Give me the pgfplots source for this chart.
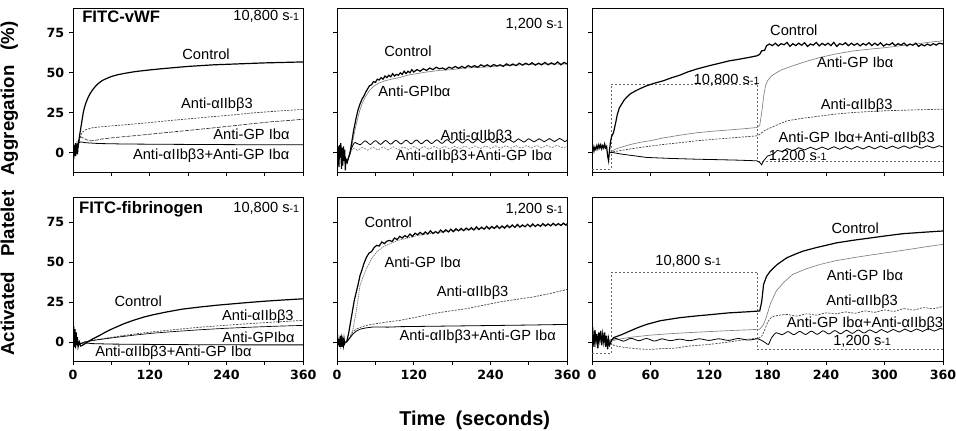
\documentclass[border=0pt]{standalone}
\usepackage{fontspec}
\setmainfont{Liberation Sans}
\newfontfamily\tickf{DejaVu Sans}
\usepackage{pgfplots}
\pgfplotsset{compat=1.18}
\newcommand\annf{\fontsize{11}{12}\selectfont}
\newcommand\sone{s{\fontsize{8}{8}\selectfont -1}}
\tikzset{ann/.style={font=\annf, inner sep=1pt}}
\pgfplotsset{
 panel/.style={scale only axis, height=123pt, xmin=0, xmax=360, ymin=-12, ymax=90.5,
   ytick={0,25,50,75}, tick align=outside, tick pos=left,
   axis line style={line width=0.6pt}, tick style={line width=0.6pt, black},
   major tick length=3pt, minor tick length=3pt,
   ticklabel style={font=\tickf\bfseries\fontsize{9.5}{11}\selectfont},
   /pgf/number format/assume math mode=true, anchor=south west},
 narrow/.style={width=172.7pt, xtick={0,120,240,360}, minor xtick={60,180,300}},
 wide/.style={width=263.25pt, xtick={0,60,120,180,240,300,360}},
 ctrl/.style={black, line width=0.9pt},
 gpib/.style={black!50, line width=0.5pt},
 aiib/.style={black!75, line width=0.5pt, dash pattern=on 1.6pt off 0.9pt},
 combo/.style={black, line width=0.6pt},
 shear/.style={black!60, line width=0.4pt, dash pattern=on 1.5pt off 1.5pt},
}
\begin{document}
\begin{tikzpicture}
\useasboundingbox (0,0) rectangle (717pt,322.5pt);
% ---------------- Top left
\begin{axis}[panel, narrow, at={(54.75pt,193.5pt)}, xticklabel=\empty]
\addplot[aiib] coordinates {(8,3)(10,8)(12,11)(15,13)(20,14.5)(30,15.6)(42,16.2)(60,16.8)(90,17.8)(120,18.9)(147,20)(180,21.2)(210,22.3)(251,23.7)(280,24.9)(310,25.8)(340,26.6)(360,27.2)};
\addplot[black!80, line width=0.5pt, dash pattern=on 3pt off 1pt] coordinates {(8,3)(10,8)(12,10)(16,9.2)(22,8)(28,7.5)(35,7.8)(45,8.6)(60,9.3)(80,10.1)(94,10.6)(120,11.6)(147,12.7)(180,14)(210,15.2)(251,16.9)(280,18.2)(310,19.4)(340,20.3)(360,21)};
\addplot[combo] coordinates {(5,2)(8,6)(12,6.8)(20,6.3)(40,5.8)(80,5.5)(150,5.3)(250,5.1)(360,5)};
\addplot[ctrl] coordinates {(0,2)(1,-4)(2,5)(3,-2)(4,6)(5,1)(6,4)(7,-1)(8,5)(10,10)(12,15)(14,20)(16,25)(18,28.5)(20,31)(23,34)(26,36.5)(30,39)(35,41.5)(40,43.5)(45,45)(50,46)(60,47.7)(70,48.8)(80,49.6)(90,50.3)(100,50.9)(120,51.8)(140,52.6)(160,53.3)(180,54)(200,54.5)(220,55)(240,55.3)(260,55.6)(280,55.9)(300,56.2)(320,56.4)(340,56.6)(360,56.8)};
\node[ann, font=\bfseries\fontsize{12.5}{13}\selectfont, anchor=west] at (axis cs:12,85.3) {FITC-vWF};
\node[ann, anchor=east] at (axis cs:356,85.5) {10,800 \sone};
\node[ann] at (axis cs:208,61.4) {Control};
\node[ann] at (axis cs:225,30) {Anti-αIIbβ3};
\node[ann] at (axis cs:279,11.7) {Anti-GP Ibα};
\node[ann] at (axis cs:216,-1.9) {Anti-αIIbβ3+Anti-GP Ibα};
\end{axis}
% ---------------- Top middle
\begin{axis}[panel, narrow, at={(252.75pt,193.5pt)}, xticklabel=\empty, yticklabel=\empty]
\addplot[gpib] coordinates {(12,-3)(15,-6)(18,-3)(20,-1)(24,6)(28,14)(32,21)(36,27)(40,31.5)(45,35.5)(51,39)(57,41.5)(65,43.5)(75,45)(85,46)(98,47)(110,48.5)(125,49.5)(140,50.5)(160,51.5)(180,52)(200,53)(230,53.5)(260,54.5)(290,55)(320,55.5)(360,55.5)};
\addplot[black, line width=0.6pt, smooth] coordinates {(12,-2)(16,-5)(20,0)(24,4)(28,6.5)(36,5)(44,7.5)(52,5.2)(60,7.6)(68,5.3)(76,7.7)(84,5.4)(92,7.8)(100,5.5)(108,7.9)(116,5.6)(124,8)(132,5.7)(140,8)(148,5.8)(156,8.1)(164,5.9)(172,8.2)(180,6)(188,8.3)(196,6.1)(204,8.4)(212,6.2)(220,8.4)(228,6.3)(236,8.5)(244,6.4)(252,8.6)(260,6.5)(268,8.6)(276,6.6)(284,8.7)(292,6.7)(300,8.8)(308,6.8)(316,8.8)(324,6.9)(332,8.9)(340,7)(348,9)(356,7)(360,8)};
\addplot[black!50, line width=0.5pt, dash pattern=on 1.6pt off 0.9pt, smooth] coordinates {(20,-1)(24,2)(28,3)(32,1.5)(40,3.5)(48,1.6)(56,3.6)(64,1.7)(72,3.7)(80,1.8)(88,3.8)(96,1.9)(104,3.8)(112,2)(120,3.9)(128,2.1)(136,4)(144,2.2)(152,4)(160,2.3)(168,4.1)(176,2.4)(184,4.1)(192,2.5)(200,4.2)(208,2.6)(216,4.3)(224,2.6)(232,4.3)(240,2.7)(248,4.4)(256,2.8)(264,4.4)(272,2.9)(280,4.5)(288,2.9)(296,4.5)(304,3)(312,4.6)(320,3.1)(328,4.6)(336,3.2)(344,4.7)(352,3.2)(360,4)};
\addplot[ctrl] coordinates {(0,2)(1,-6)(2,4)(3,-9)(4,5)(5,-3)(6,6)(7,-10)(8,3)(9,-8)(10,4)(11,-5)(12,2)(13,-11)(14,-4)(16,-6)(18,-3)(20,-1)(22,4)(24,9)(26,14)(28,18)(30,22)(33,27)(36,30.5)(39,33.5)(42,35.5)(45,38)(48,40)(51,42)(54,42.5)(57,44.5)(60,44)(63,46)(66,45.5)(69,47)(72,46)(75,48)(78,47)(81,48.5)(84,47.5)(87,49.5)(90,48)(93,49)(96,48.5)(99,50)(102,49)(105,51)(108,49.5)(111,51)(114,50)(117,52)(120,50.5)(125,52)(130,51)(135,52.5)(140,51.5)(145,53)(150,52)(155,53.5)(160,52.5)(165,53)(170,52)(175,53.5)(180,52.8)(185,54)(190,52.8)(195,54)(200,53)(205,54.5)(210,53.5)(215,54.5)(220,53.5)(225,55)(230,54)(235,55)(240,53.8)(245,55.2)(250,54.2)(255,55)(260,54)(265,55.6)(270,54.5)(275,55.5)(280,54.5)(285,56)(290,54.8)(295,56)(300,55)(305,56.3)(310,54.8)(315,56)(320,55)(325,56.5)(330,55)(335,56.2)(340,55.2)(345,56.8)(350,55)(355,56.5)(360,55.5)};
\node[ann, anchor=east] at (axis cs:356,80) {1,200 \sone};
\node[ann] at (axis cs:111,63.3) {Control};
\node[ann] at (axis cs:121,38.3) {Anti-GPIbα};
\node[ann] at (axis cs:218,10.1) {Anti-αIIbβ3};
\node[ann] at (axis cs:214,-2.4) {Anti-αIIbβ3+Anti-GP Ibα};
\end{axis}
% ---------------- Top right
\begin{axis}[panel, wide, at={(444pt,193.5pt)}, xticklabel=\empty, yticklabel=\empty]
\addplot[shear] coordinates {(0,-10)(20,-10)(20,43)(170,43)(170,-5)(360,-5)};
\addplot[gpib] coordinates {(18,0)(20,1)(25,2.5)(30,3.5)(40,5.3)(50,6.6)(60,7.6)(73,9.3)(90,11)(107,12.5)(124,13.5)(141,14.3)(155,15)(169,15.8)(172,17)(174,25)(176,35)(178,42)(180,45)(184,48)(189,50)(195,52)(206,54.4)(220,57.2)(234,59.6)(250,61.8)(268,63.7)(285,64.8)(302,65.8)(320,67.2)(336,68.3)(350,69.4)(360,70)};
\addplot[aiib] coordinates {(18,0)(20,0.5)(30,1.5)(40,2.5)(55,3.8)(73,5.2)(90,6.3)(107,7.5)(124,8.4)(141,9.2)(155,9.9)(169,10.6)(172,11.5)(176,13.5)(180,14.8)(190,17.5)(200,20)(215,21.5)(234,23)(250,24.2)(268,25.2)(285,25.8)(302,26.3)(330,26.8)(360,27.3)};
\addplot[combo] coordinates {(18,0)(20,0.3)(30,-0.8)(40,-1.6)(56,-2.9)(80,-3.5)(107,-4)(130,-4.3)(150,-4.6)(169,-5)(172,-6)(174,-7.5)(176,-5)(180,-2)(186,-0.8)(190,1.5)(195,0.8)(200,2.6)(206,1.3)(212,3.2)(218,1.8)(224,3.5)(230,2)(236,3.6)(242,2.1)(248,3.8)(254,2.2)(260,3.9)(266,2.3)(272,4)(278,2.4)(284,4.1)(290,2.5)(296,4.2)(302,2.6)(308,4.2)(314,2.7)(320,4.3)(326,2.8)(332,4.3)(338,2.9)(344,4.4)(350,3)(356,4.4)(360,3.6)};
\addplot[ctrl] coordinates {(0,2)(1,4)(2,1)(3,3.5)(4,2)(5,4.5)(6,2.5)(7,5)(8,3)(9,5)(10,2.5)(11,4.5)(12,3)(13,5.5)(14,3)(15,4)(16,-2)(17,-5)(18,2)(19,7)(20,10)(22,12.5)(24,18)(26,24)(28,28)(30.4,30.4)(33,33)(36,35)(39,36.7)(44,38.5)(50,40.3)(56,41.9)(64,43.5)(73,45)(82,47)(90,48.5)(98,50.5)(107,52.3)(115,53.6)(124,55)(133,56.3)(141,57.5)(150,58.4)(160,59.5)(169,60.6)(172,61.5)(174,63.75)(177,64)(179,66.9)(182,68)(185,67)(188,68.5)(191,66.8)(194,68.2)(197,67.5)(200,69)(203,66.5)(206,68.2)(209,67)(212,68.5)(215,67.2)(218,68.8)(221,66.5)(224,68)(227,67.3)(230,69)(233,66.8)(236,68.4)(239,67.2)(242,68.5)(245,67)(248,69)(251,66.5)(254,68.2)(257,67.5)(260,68.8)(263,67)(266,68.5)(269,67.2)(272,68.4)(275,66.8)(278,68.3)(281,67.3)(284,68.8)(287,67)(290,68.5)(293,67.2)(296,68.8)(299,66.7)(302,68)(305,67.4)(308,68.7)(311,67)(314,68.2)(317,67.3)(320,68.6)(323,66.8)(326,68)(329,67.2)(332,68.5)(335,66.5)(338,67.8)(341,66.8)(344,68)(347,67)(350,68.2)(353,67.3)(356,68.5)(360,68)};
\node[ann] at (axis cs:207,76.9) {Control};
\node[ann] at (axis cs:270,56.4) {Anti-GP Ibα};
\node[ann] at (axis cs:138,45.6) {10,800 \sone};
\node[ann] at (axis cs:271.5,29.4) {Anti-αIIbβ3};
\node[ann] at (axis cs:271.5,9) {Anti-GP Ibα+Anti-αIIbβ3};
\node[ann] at (axis cs:211,-1.9) {1,200 \sone};
\end{axis}
% ---------------- Bottom left
\begin{axis}[panel, narrow, at={(54.75pt,51.6pt)}]
\addplot[aiib] coordinates {(8,0)(12,-1)(18,0)(30,1)(50,2.3)(75,3.8)(100,5.2)(130,6.6)(160,7.8)(200,9.3)(240,10.5)(280,11.6)(320,12.6)(360,13.5)};
\addplot[combo, line width=0.5pt] coordinates {(8,0)(12,-1)(18,0)(30,0.9)(50,2)(75,3.3)(100,4.5)(130,5.7)(160,6.6)(200,7.7)(240,8.6)(280,9.3)(320,9.9)(360,10.4)};
\addplot[combo] coordinates {(8,0)(12,-1)(18,-0.5)(30,-1)(60,-1.3)(120,-1.5)(200,-1.7)(280,-1.8)(360,-1.8)};
\addplot[ctrl] coordinates {(0,3)(1,10)(2,-3)(3,8)(4,-4)(5,6)(6,-2)(7,3)(8,-3)(10,0)(12,-2.5)(15,-2)(19,-1)(25,0.5)(30,1.8)(36,3)(42,4.2)(50,6)(60,8)(68,9.4)(80,11.5)(94,13.5)(110,15.5)(125,17)(146,18.75)(170,20.5)(199,21.9)(225,23)(251,23.9)(277,24.8)(303,25.6)(330,26.3)(360,27)};
\node[ann, font=\bfseries\fontsize{12.5}{13}\selectfont, anchor=west] at (axis cs:7,83.1) {FITC-fibrinogen};
\node[ann, anchor=east] at (axis cs:356,83.3) {10,800 \sone};
\node[ann] at (axis cs:102,25.5) {Control};
\node[ann] at (axis cs:289,15.6) {Anti-αIIbβ3};
\node[ann] at (axis cs:290,2.7) {Anti-GPIbα};
\node[ann] at (axis cs:157,-6.7) {Anti-αIIbβ3+Anti-GP Ibα};
\end{axis}
% ---------------- Bottom middle
\begin{axis}[panel, narrow, at={(252.75pt,51.6pt)}, yticklabel=\empty]
\addplot[black!50, line width=0.6pt, dash pattern=on 1pt off 0.6pt] coordinates {(15,0)(20,2)(25,8)(30,19)(36,35.4)(41,41)(46,45.8)(54,52)(62,56.25)(72,59.5)(82.6,61.4)(95,63.5)(110,65)(125,66.5)(140,67.5)(160,68.5)(180,69.5)(200,70)(230,71)(260,71.8)(290,72.5)(320,73)(360,73.5)};
\addplot[aiib] coordinates {(15,0)(20,3)(25,6.5)(30,8)(38,9.4)(46,10.4)(60,11.4)(80,12.6)(98,13.5)(125,15.6)(150,17.7)(175,19.3)(202,20.8)(228,22.9)(254,25)(280,26.6)(306,28.1)(332,30.2)(358,32.7)(360,32.9)};
\addplot[combo] coordinates {(15,0)(20,2.5)(25,5)(30,6.8)(36,8)(45,8.8)(57,9.4)(80,9.3)(100,9.6)(140,9.8)(180,10)(220,10.2)(260,10.4)(300,10.6)(330,10.8)(360,11)};
\addplot[ctrl] coordinates {(0,0)(1,3)(2,-2)(3,2)(4,-3)(5,4)(6,-1)(7,2)(8,-3)(9,1)(10,-2)(11,2)(12,-1)(13,0)(15,0)(18,5)(21,12)(24,19)(27,26)(30,31)(33,36)(36,41.6)(39,45)(42,49)(46,53)(50,55.5)(54,56.5)(58,59)(62,60.4)(66,60)(70,62.5)(74,61.5)(78,63)(82,63.5)(86,62.8)(90,65)(94,64)(98,66)(102,65)(106,66.5)(110,65.5)(114,67.5)(118,66)(122,68)(126,67)(130,68.5)(134,67.2)(138,68.8)(142,67.5)(146,69.5)(150,67.8)(154,69)(158,68)(162,70)(166,68.5)(170,70.2)(174,68.8)(178,70.5)(182,69)(186,70.8)(190,69.5)(194,71)(198,69.6)(202,71.2)(206,70)(210,71.5)(214,70)(218,72)(222,70.3)(226,71.8)(230,70.5)(234,72.3)(238,70.6)(242,72.2)(246,71)(250,72.7)(254,71)(258,72.5)(262,71.2)(266,73)(270,71.5)(274,73.2)(278,71.6)(282,73.5)(286,71.8)(290,73.2)(294,72)(298,73.6)(302,72)(306,73.8)(310,72.2)(314,73.5)(318,72.3)(322,74)(326,72.5)(330,73.8)(334,72.6)(338,74.2)(342,72.8)(346,74)(350,72.8)(354,74.3)(358,73)(360,74)};
\node[ann, anchor=east] at (axis cs:356,82.9) {1,200 \sone};
\node[ann] at (axis cs:80,75) {Control};
\node[ann] at (axis cs:134,49.6) {Anti-GP Ibα};
\node[ann] at (axis cs:212,30.8) {Anti-αIIbβ3};
\node[ann] at (axis cs:220,3.1) {Anti-αIIbβ3+Anti-GP Ibα};
\end{axis}
% ---------------- Bottom right
\begin{axis}[panel, wide, at={(444pt,51.6pt)}, yticklabel=\empty]
\addplot[shear] coordinates {(0,-7)(20,-7)(20,43.75)(170,43.75)(170,-4.6)(360,-4.6)};
\addplot[gpib] coordinates {(18,0)(25,1.5)(40,3)(60,4.3)(80,5.2)(100,5.9)(120,6.5)(140,7.1)(160,7.6)(172,8)(176,11)(179,16)(183,24)(189,31.9)(197,37.5)(206,42.3)(220,45.8)(234,48.5)(250,50.8)(268,52.7)(285,54.3)(302,55.8)(320,57.4)(336,58.9)(350,60.2)(360,61)};
\addplot[aiib, smooth] coordinates {(18,-1)(25,-2.5)(35,-3.5)(50,-4.4)(60,-4.6)(70,-4.2)(85,-3.8)(100,-2.5)(120,-1.5)(140,0)(160,1.8)(172,2.7)(176,6)(180,12)(184,15.5)(190,16.5)(200,17.2)(210,16.2)(220,17.6)(230,16.8)(240,18.2)(250,17.6)(260,18.8)(270,18)(280,19.4)(290,18.6)(300,20)(310,19.2)(320,20.8)(330,20)(340,21.5)(350,20.8)(360,22.3)};
\addplot[combo, smooth] coordinates {(18,1)(25,2.2)(32,0.5)(40,2.3)(48,0.8)(56,2.2)(64,0.6)(72,2)(80,0.8)(90,1.8)(100,0.8)(110,2)(120,1)(130,2)(140,1)(150,2.2)(160,1.2)(170,2)(174,1)(178,-0.5)(181,-1.5)(184,2.5)(189,5.8)(195,4.5)(201,6.5)(207,4.6)(213,6.6)(219,4.7)(225,6.8)(231,4.8)(237,7)(243,5)(249,7.1)(255,5.2)(261,7.3)(267,5.4)(273,7.5)(279,5.6)(285,7.6)(291,5.8)(297,7.8)(303,6)(309,7.9)(315,6.2)(321,8.1)(327,6.4)(333,8.2)(339,6.6)(345,8.4)(351,6.8)(357,8.5)(360,7.9)};
\addplot[ctrl] coordinates {(0,2)(1,6)(2,-3)(3,7.5)(4,0)(5,5)(6,-4)(7,6)(8,1)(9,7)(10,-2)(11,5)(12,0)(13,6)(14,-3)(15,4)(16,-4.6)(17,2)(18,-2)(20,1)(22,2.7)(30,4.5)(39,6.9)(47,9)(56,11)(70,13.3)(90,15.2)(107,16.3)(124,17.25)(140,18.2)(160,18.9)(172,19.4)(174,25)(176,36)(179,41)(183,44.4)(190,48.5)(200,52.7)(210,55.3)(217,56.9)(230,59)(251,62)(268,63.6)(285,65)(302,66.4)(319,67.7)(340,68.6)(360,69.4)};
\node[ann] at (axis cs:98.7,50.4) {10,800 \sone};
\node[ann] at (axis cs:270,71.3) {Control};
\node[ann] at (axis cs:280,41.7) {Anti-GP Ibα};
\node[ann] at (axis cs:277,25) {Anti-αIIbβ3};
\node[ann] at (axis cs:280,11.4) {Anti-GP Ibα+Anti-αIIbβ3};
\node[ann] at (axis cs:277,0.4) {1,200 \sone};
\end{axis}
% ---------------- axis titles
\node[rotate=90, font=\bfseries\fontsize{14}{15}\selectfont] at (7pt,181pt) {Activated\hspace{0.8em}Platelet\hspace{0.8em}Aggregation\hspace{0.8em}(\%)};
\node[font=\bfseries\fontsize{15}{17}\selectfont, anchor=base] at (356pt,3.75pt) {Time\hspace{0.5em}(seconds)};
\end{tikzpicture}
\end{document}
